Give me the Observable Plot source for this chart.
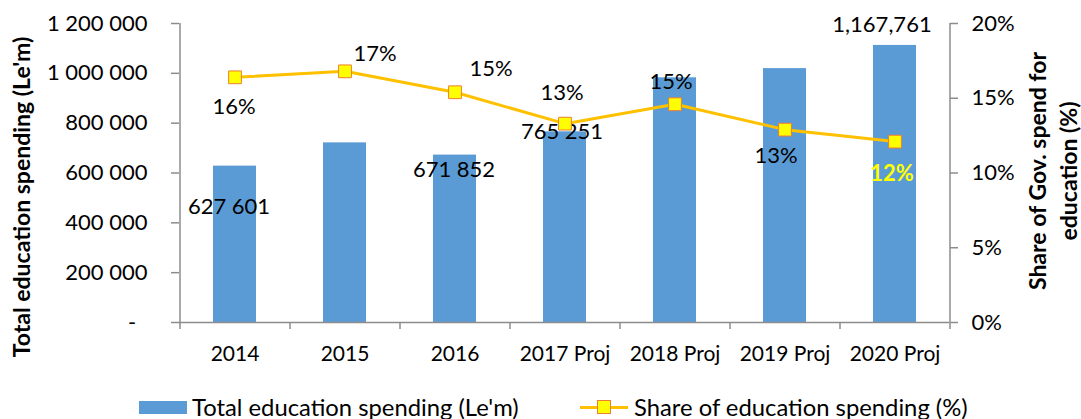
<!DOCTYPE html>
<html>
<head>
<meta charset="utf-8">
<script src="https://cdn.jsdelivr.net/npm/d3@7"></script>
<script src="https://cdn.jsdelivr.net/npm/@observablehq/plot@0.6"></script>
<style>
  html, body { margin: 0; padding: 0; background: #fff; overflow: hidden; }
  #wrap { position: relative; width: 1081px; height: 419px; font-family: Lato, "Open Sans", sans-serif; }
  .lg { position: absolute; }
  .lg-text { top: 395px; height: 24px; line-height: 24px; font-size: 23.8px; color: #000; white-space: nowrap; }
  .sw-bar { left: 139px; top: 401px; width: 48px; height: 13px; background: #5B9BD5; }
  .sw-ln { left: 580px; top: 406px; width: 48px; height: 3px; background: #FFC000; }
  .sw-mk { left: 597px; top: 400px; width: 12px; height: 12px; background: #FFFF00; border: 1px solid #ED7D31; }
</style>
</head>
<body>
<div id="wrap">
  <div id="chart"></div>
  <div class="lg sw-bar"></div>
  <div class="lg lg-text" style="left:192px">Total education spending (Le'm)</div>
  <div class="lg sw-ln"></div>
  <div class="lg sw-mk"></div>
  <div class="lg lg-text" style="left:634px">Share of education spending (%)</div>
</div>
<script>
// ---- data ----
const years = ["2014", "2015", "2016", "2017 Proj", "2018 Proj", "2019 Proj", "2020 Proj"];
const spending = [627601, 721000, 671852, 765251, 982000, 1019000, 1112000];
const share = [0.164, 0.168, 0.154, 0.133, 0.146, 0.129, 0.121];
const spendingLabels = ["627 601", null, "671 852", "765 251", null, null, "1,167,761"];
const shareLabels = ["16%", "17%", "15%", "13%", "15%", "13%", "12%"];
const leftTicks = [0, 200000, 400000, 600000, 800000, 1000000, 1200000];
const rightTicks = [0, 0.05, 0.10, 0.15, 0.20];
const leftTitle = "Total education spending (Le'm)";
const rightTitle = "Share of Gov. spend for\neducation (%)";

// ---- layout ----
const W = 1081, H = 392, ml = 179, mr = 132, mt = 23, mb = 70;
const step = (W - ml - mr) / years.length;
const yMax = 1200000, shareMax = 0.20;
const k = yMax / shareMax; // maps the share onto the left scale
const gray = "#8c8c8c";

const rows = years.map((year, i) => ({year, spend: spending[i], shareY: share[i] * k, sLabel: spendingLabels[i], pLabel: shareLabels[i]}));

// label nudges (pixels) relative to the bar top / line point
const barNudge = [[-6, 41], null, [-1, 15], [-3, 0], null, null, [-13, -20]];
const shareNudge = [[-1, 30], [30, -17], [36, -23], [-3, -31], [-4, -22], [-9, 26], [-3, 32]];

const fmtLeft = v => v === 0 ? "-\u00a0\u00a0" : d3.format(",")(v).replace(/,/g, " ");
const fmtRight = v => Math.round(v / k * 100) + "%";

const barLabelMarks = rows.map((r, i) => r.sLabel && barNudge[i] ? Plot.text([r], {
  x: "year", y: "spend", text: "sLabel", dx: barNudge[i][0], dy: barNudge[i][1], fontSize: 22, fill: "#000"
}) : null).filter(Boolean);

const shareLabelMarks = rows.map((r, i) => Plot.text([r], {
  x: "year", y: "shareY", text: "pLabel", dx: shareNudge[i][0], dy: shareNudge[i][1], fontSize: 22,
  fill: i === rows.length - 1 ? "#FFFF00" : "#000",
  fontWeight: i === rows.length - 1 ? "bold" : "normal"
}));

const chart = Plot.plot({
  width: W, height: H,
  marginLeft: ml, marginRight: mr, marginTop: mt, marginBottom: mb,
  style: {fontFamily: "Lato, 'Open Sans', sans-serif", fontSize: "22px", background: "#fff", color: "#000", overflow: "visible"},
  x: {domain: years, paddingInner: 0.61, paddingOuter: 0.305, axis: null},
  y: {domain: [0, yMax], axis: null},
  marks: [
    Plot.barY(rows, {x: "year", y: "spend", fill: "#5B9BD5"}),
    // axis lines
    Plot.ruleY([0], {stroke: gray, strokeWidth: 1.5}),
    Plot.ruleX([years[0]], {x: d => d, y1: 0, y2: yMax, dx: -step / 2, stroke: gray, strokeWidth: 1.5}),
    Plot.ruleX([years[years.length - 1]], {x: d => d, y1: 0, y2: yMax, dx: step / 2, stroke: gray, strokeWidth: 1.5}),
    // left axis
    Plot.axisY({anchor: "left", ticks: leftTicks, tickFormat: fmtLeft, tickSize: 8, tickPadding: 24, stroke: gray, strokeWidth: 1.5, fill: "#000", fontSize: 22, label: null}),
    // right axis
    Plot.axisY({anchor: "right", ticks: rightTicks.map(v => v * k), tickFormat: fmtRight, tickSize: 8, tickPadding: 14, stroke: gray, strokeWidth: 1.5, fill: "#000", fontSize: 22, label: null}),
    // x axis labels
    Plot.axisX({anchor: "bottom", tickSize: 0, tickPadding: 24, fill: "#000", fontSize: 21, label: null}),
    // category boundary ticks
    Plot.axisX({anchor: "bottom", tickSize: 7, tickFormat: () => "", dx: -step / 2, stroke: gray, strokeWidth: 1.5, label: null}),
    Plot.axisX({anchor: "bottom", ticks: [years[years.length - 1]], tickSize: 7, tickFormat: () => "", dx: step / 2, stroke: gray, strokeWidth: 1.5, label: null}),
    ...barLabelMarks,
    Plot.lineY(rows, {x: "year", y: "shareY", stroke: "#FFC000", strokeWidth: 3}),
    Plot.dot(rows, {x: "year", y: "shareY", symbol: "square", r: 7.2, fill: "#FFFF00", stroke: "#ED7D31", strokeWidth: 1}),
    ...shareLabelMarks,
    // axis titles
    Plot.text([leftTitle], {text: d => d, frameAnchor: "left", textAnchor: "middle", dx: -157, dy: 24, rotate: -90, fontWeight: "bold", fontSize: 23, fill: "#000"}),
    Plot.text([rightTitle], {text: d => d, frameAnchor: "right", textAnchor: "middle", dx: 102, dy: -2, rotate: -90, lineHeight: 1.35, fontWeight: "bold", fontSize: 23, fill: "#000"})
  ]
});
document.getElementById("chart").appendChild(chart);
</script>
</body>
</html>
